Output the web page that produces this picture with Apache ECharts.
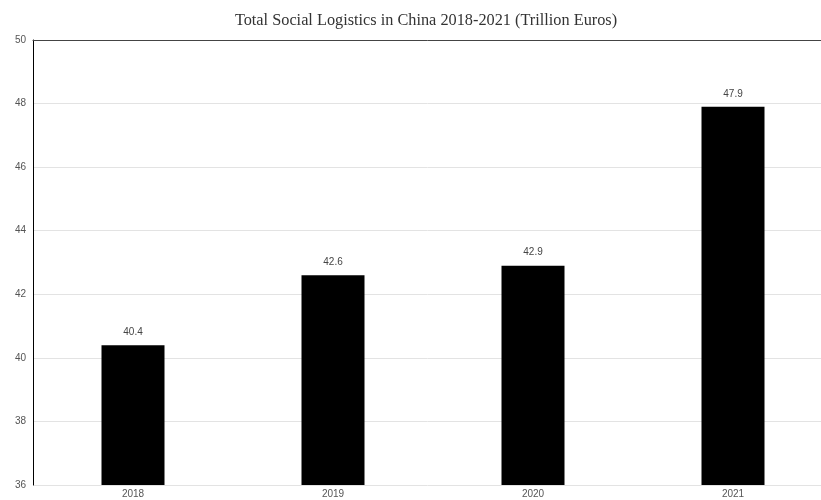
<!DOCTYPE html>
<html>
<head>
<meta charset="utf-8">
<script src="https://cdn.jsdelivr.net/npm/echarts@6/dist/echarts.min.js"></script>
<style>html,body{margin:0;padding:0;background:#fff;}#c{width:821px;height:500px;}</style>
</head>
<body>
<div id="c"></div>
<script>
const categories = ['2018', '2019', '2020', '2021'];
const values = [40.4, 42.6, 42.9, 47.9];
const titleText = 'Total Social Logistics in China 2018-2021 (Trillion Euros)';

const chart = echarts.init(document.getElementById('c'), null, {renderer: 'canvas'});
chart.setOption({
  animation: false,
  backgroundColor: '#fff',
  title: {
    text: titleText,
    left: 421, textAlign: 'center', top: 8,
    textStyle: {fontFamily: 'Liberation Serif', fontWeight: 'normal', fontSize: 16.3, color: '#333'}
  },
  grid: {left: 33, top: 40, width: 800, height: 445, outerBoundsMode: 'none', containLabel: false},
  xAxis: [{
    type: 'category', data: categories,
    axisLine: {show: false}, axisTick: {show: false},
    axisLabel: {color: '#555', fontFamily: 'Liberation Sans', fontSize: 10, margin: 4}
  }, {
    type: 'category', data: categories, position: 'top',
    axisLine: {show: true, lineStyle: {color: '#444', width: 1}},
    axisTick: {show: false}, axisLabel: {show: false}
  }],
  yAxis: {
    type: 'value', min: 36, max: 50, interval: 2,
    axisLine: {show: true, lineStyle: {color: '#000', width: 1}},
    axisTick: {show: false},
    axisLabel: {color: '#555', fontFamily: 'Liberation Sans', fontSize: 10, margin: 7},
    splitLine: {lineStyle: {color: '#e3e3e3', width: 1}}
  },
  series: [{
    type: 'bar', data: values, barWidth: '31.5%', xAxisIndex: 0,
    itemStyle: {color: '#000'},
    label: {show: true, position: 'top', distance: 8, color: '#444', fontFamily: 'Liberation Sans', fontSize: 10}
  }]
});
</script>
</body>
</html>
